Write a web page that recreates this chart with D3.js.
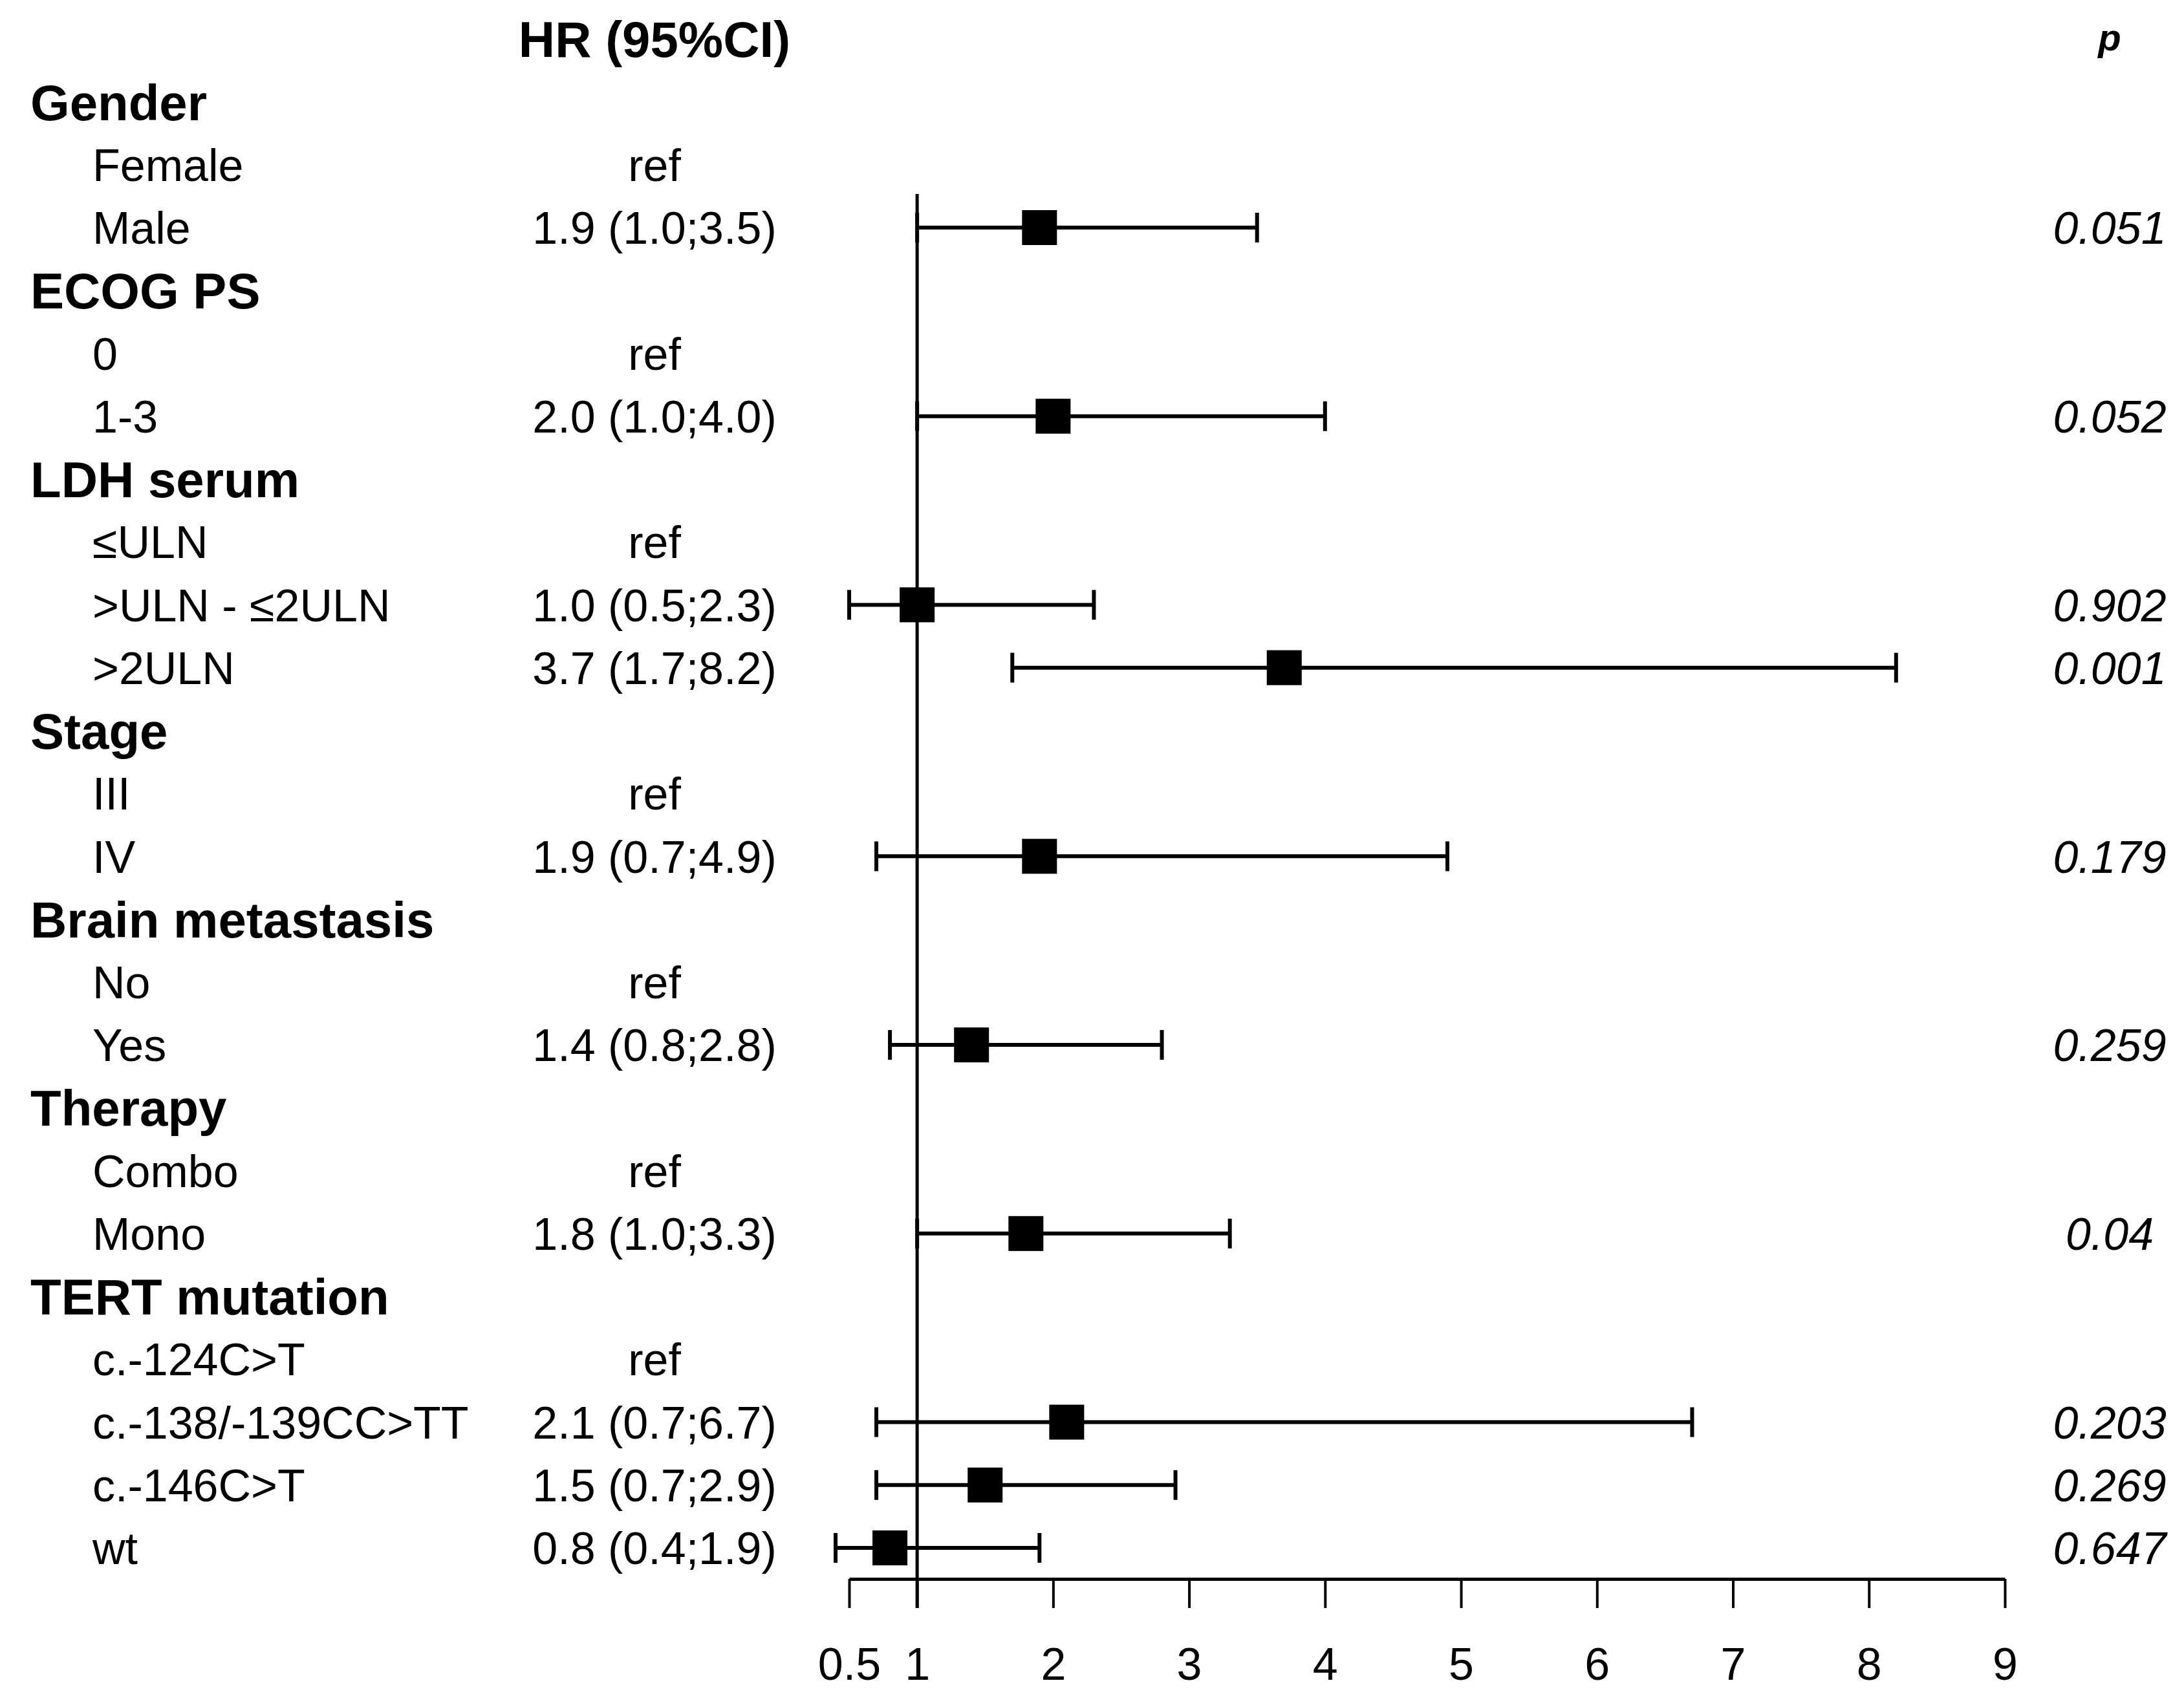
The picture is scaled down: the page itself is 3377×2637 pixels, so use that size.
<!DOCTYPE html>
<html>
<head>
<meta charset="utf-8">
<script src="https://cdn.jsdelivr.net/npm/d3@7"></script>
<style>
  body { margin: 0; background: #fff; }
  svg { display: block; font-family: "Liberation Sans", Arial, sans-serif; }
</style>
</head>
<body>
<div id="chart"></div>
<script>
// row labels, top to bottom
const rowLabels = [
  "Gender", "Female", "Male",
  "ECOG PS", "0", "1-3",
  "LDH serum", "\u2264ULN", ">ULN - \u22642ULN", ">2ULN",
  "Stage", "III", "IV",
  "Brain metastasis", "No", "Yes",
  "Therapy", "Combo", "Mono",
  "TERT mutation", "c.-124C>T", "c.-138/-139CC>TT", "c.-146C>T", "wt"
];
const groupHeaders = ["Gender", "ECOG PS", "LDH serum", "Stage", "Brain metastasis", "Therapy", "TERT mutation"];

// hazard ratios and 95% CI (null = header row or reference level)
const hrEst  = [null, null, 1.9, null, null, 2.0, null, null, 1.0, 3.7, null, null, 1.9, null, null, 1.4, null, null, 1.8, null, null, 2.1, 1.5, 0.8];
const ciLow  = [null, null, 1.0, null, null, 1.0, null, null, 0.5, 1.7, null, null, 0.7, null, null, 0.8, null, null, 1.0, null, null, 0.7, 0.7, 0.4];
const ciHigh = [null, null, 3.5, null, null, 4.0, null, null, 2.3, 8.2, null, null, 4.9, null, null, 2.8, null, null, 3.3, null, null, 6.7, 2.9, 1.9];
const pValues = ["", "", "0.051", "", "", "0.052", "", "", "0.902", "0.001", "", "", "0.179", "", "", "0.259", "", "", "0.04", "", "", "0.203", "0.269", "0.647"];

const xTicks = [0.5, 1, 2, 3, 4, 5, 6, 7, 8, 9];

const WIDTH = 3377, HEIGHT = 2637;
const COL = { LABEL: 47, SUB: 143, HR: 1012, P: 3262 };

var rows = rowLabels.map((label, i) => ({
  label: label,
  isHeader: groupHeaders.includes(label),
  hr: hrEst[i], lo: ciLow[i], hi: ciHigh[i], p: pValues[i], i: i
}));

const svg = d3.select("#chart").append("svg")
  .attr("width", WIDTH)
  .attr("height", HEIGHT);

svg.append("rect").attr("width", WIDTH).attr("height", HEIGHT).attr("fill", "#fff");

const x = d3.scaleLinear().domain([0.5, 9]).range([1313, 3100]);
const y = d3.scaleLinear().domain([0, rows.length - 1]).range([157.5, 2394]);
const axisY = 2442;

// column headers
svg.append("text")
  .attr("x", COL.HR).attr("y", y(-1))
  .attr("dy", "0.36em")
  .attr("text-anchor", "middle")
  .attr("font-size", 78).attr("font-weight", "bold")
  .text("HR (95%CI)");

svg.append("text")
  .attr("x", COL.P).attr("y", 78)
  .attr("text-anchor", "middle")
  .attr("font-size", 58).attr("font-weight", "bold").attr("font-style", "italic")
  .text("p");

// left labels
svg.append("g").selectAll("text")
  .data(rows)
  .join("text")
  .attr("x", d => d.isHeader ? COL.LABEL : COL.SUB)
  .attr("y", d => y(d.i))
  .attr("dy", "0.36em")
  .attr("font-size", d => d.isHeader ? 78 : 70)
  .attr("font-weight", d => d.isHeader ? "bold" : "normal")
  .text(d => d.label);

// HR (95%CI) column
svg.append("g").selectAll("text")
  .data(rows.filter(d => !d.isHeader))
  .join("text")
  .attr("x", COL.HR)
  .attr("y", d => y(d.i))
  .attr("dy", "0.36em")
  .attr("text-anchor", "middle")
  .attr("font-size", 70)
  .text(d => d.hr == null ? "ref" : `${d.hr.toFixed(1)} (${d.lo.toFixed(1)};${d.hi.toFixed(1)})`);

// p column
svg.append("g").selectAll("text")
  .data(rows.filter(d => d.p))
  .join("text")
  .attr("x", COL.P)
  .attr("y", d => y(d.i))
  .attr("dy", "0.36em")
  .attr("text-anchor", "middle")
  .attr("font-size", 70)
  .attr("font-style", "italic")
  .text(d => d.p);

// x axis
svg.append("g")
  .attr("class", "x axis")
  .attr("transform", `translate(0,${axisY})`)
  .call(d3.axisBottom(x).tickValues(xTicks).tickSize(45).tickSizeOuter(0).tickPadding(61).tickFormat(d => d))
  .call(g => g.select(".domain").attr("stroke-width", 5))
  .call(g => g.selectAll(".tick line").attr("stroke-width", 4))
  .call(g => g.selectAll(".tick text")
    .attr("font-size", 70)
    .attr("font-family", "Liberation Sans, Arial, sans-serif")
    .attr("fill", "#000"));

// reference line at HR = 1
svg.append("line")
  .attr("x1", x(1)).attr("x2", x(1))
  .attr("y1", 300).attr("y2", axisY + 45)
  .attr("stroke", "#000").attr("stroke-width", 5);

const est = rows.filter(d => d.hr != null);

// CI lines
const ci = svg.append("g").attr("stroke", "#000");
ci.selectAll("line.ci")
  .data(est)
  .join("line")
  .attr("class", "ci")
  .attr("x1", d => x(d.lo)).attr("x2", d => x(d.hi))
  .attr("y1", d => y(d.i)).attr("y2", d => y(d.i))
  .attr("stroke-width", 6);

// caps
ci.selectAll("line.caplo")
  .data(est)
  .join("line")
  .attr("class", "caplo")
  .attr("x1", d => x(d.lo)).attr("x2", d => x(d.lo))
  .attr("y1", d => y(d.i) - 23).attr("y2", d => y(d.i) + 23)
  .attr("stroke-width", 6);
ci.selectAll("line.caphi")
  .data(est)
  .join("line")
  .attr("class", "caphi")
  .attr("x1", d => x(d.hi)).attr("x2", d => x(d.hi))
  .attr("y1", d => y(d.i) - 23).attr("y2", d => y(d.i) + 23)
  .attr("stroke-width", 6);

// point estimates
const SQ = 54;
svg.append("g").selectAll("rect")
  .data(est)
  .join("rect")
  .attr("x", d => x(d.hr) - SQ / 2)
  .attr("y", d => y(d.i) - SQ / 2)
  .attr("width", SQ).attr("height", SQ)
  .attr("fill", "#000");
</script>
</body>
</html>
